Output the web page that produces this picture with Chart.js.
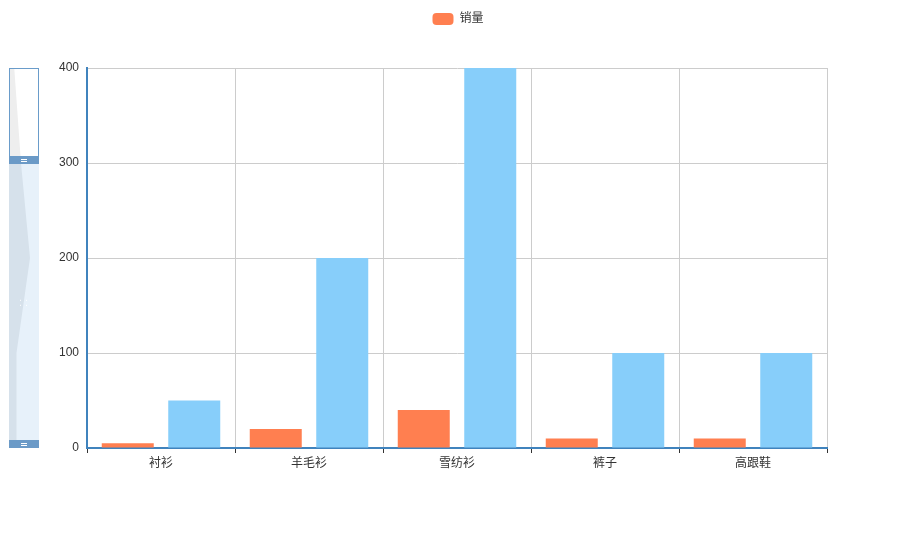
<!DOCTYPE html>
<html>
<head>
<meta charset="utf-8">
<script src="https://cdn.jsdelivr.net/npm/chart.js@4/dist/chart.umd.min.js"></script>
<style>
html,body{margin:0;padding:0;background:#fff;}
#wrap{width:906px;height:542px;position:relative;}
</style>
</head>
<body>
<div id="wrap"><canvas id="c" width="906" height="542"></canvas></div>
<script>
const categories = ['衬衫', '羊毛衫', '雪纺衫', '裤子', '高跟鞋'];
const salesValues = [5, 20, 40, 10, 10];
const secondValues = [50, 200, 400, 100, 100];
const yTicks = [0, 100, 200, 300, 400];
const legendLabel = '销量';

const FONT = "'Liberation Sans', 'Noto Sans CJK SC', sans-serif";
const AXIS_BLUE = '#4083bd';

const legendHeightPlugin = {
  id: 'legendHeight',
  afterInit(chart) {
    const lg = chart.legend;
    if (!lg) return;
    const orig = lg.fit;
    lg.fit = function () {
      orig.call(this);
      this.height = 68;
    };
  },
  afterLayout(chart) {
    const lg = chart.legend;
    if (!lg) return;
    lg.left += 5;
    lg.right += 5;
  }
};

const sliderPlugin = {
  id: 'slider',
  afterDraw(chart) {
    const ctx = chart.ctx;
    const top = chart.chartArea.top, bottom = chart.chartArea.bottom;
    const x0 = 9, w = 30;
    const h = bottom - top;
    const hTop = top + h * 0.2316;
    const hs = 8;
    ctx.save();
    ctx.fillStyle = '#e7f1fa';
    ctx.fillRect(x0, hTop + hs, w, bottom - hs - (hTop + hs));
    const vals = chart.data.datasets[1].data;
    const maxV = Math.max(...vals);
    ctx.beginPath();
    ctx.moveTo(x0, top);
    vals.forEach((v, i) => {
      const y = top + (i / (vals.length - 1)) * h;
      const x = x0 + 3 + (v / maxV) * 18;
      ctx.lineTo(x, y);
    });
    ctx.lineTo(x0, bottom);
    ctx.closePath();
    ctx.save();
    ctx.clip();
    ctx.fillStyle = '#eeeeee';
    ctx.fillRect(x0, top, w, hTop - top);
    ctx.fillStyle = '#d6e1eb';
    ctx.fillRect(x0, hTop, w, bottom - hTop);
    ctx.restore();
    ctx.strokeStyle = '#6a9cca';
    ctx.lineWidth = 1;
    ctx.strokeRect(x0 + 0.5, top + 0.5, w - 1, hTop - top);
    ctx.fillStyle = '#6b9ac7';
    ctx.fillRect(x0, hTop, w, hs);
    ctx.fillRect(x0, bottom - hs, w, hs);
    ctx.fillStyle = '#ffffff';
    [hTop, bottom - hs].forEach(y => {
      ctx.fillRect(x0 + 12, y + 3, 6, 1);
      ctx.fillRect(x0 + 12, y + 5, 6, 1);
    });
    const gy = top + h * 0.61;
    [[20, 0], [26, 0], [20, 5], [26, 5]].forEach(([dx, dy]) => {
      ctx.fillRect(dx, gy + dy, 1, 1);
    });
    ctx.restore();
  }
};

new Chart(document.getElementById('c'), {
  type: 'bar',
  data: {
    labels: categories,
    datasets: [
      { label: legendLabel, data: salesValues, backgroundColor: '#ff7f50', categoryPercentage: 0.8986, barPercentage: 0.782 },
      { label: '', data: secondValues, backgroundColor: '#87cefa', categoryPercentage: 0.8986, barPercentage: 0.782 }
    ]
  },
  plugins: [legendHeightPlugin, sliderPlugin],
  options: {
    responsive: false,
    animation: false,
    layout: { padding: { top: 0, left: 0, right: 0, bottom: 0 } },
    plugins: {
      tooltip: { enabled: false },
      legend: {
        position: 'top',
        labels: {
          filter: (item) => item.text !== '',
          boxWidth: 21,
          boxHeight: 12,
          useBorderRadius: true,
          borderRadius: 4,
          padding: 13,
          color: '#333',
          font: { family: FONT, size: 12 }
        }
      }
    },
    scales: {
      x: {
        grid: { color: '#cccccc', tickColor: '#333333', tickLength: 5, offset: true },
        border: { color: AXIS_BLUE, width: 2 },
        ticks: { color: '#333', font: { family: FONT, size: 12 }, padding: 3 },
        afterFit: (s) => { s.height = 94; }
      },
      y: {
        min: 0,
        max: 400,
        afterBuildTicks: (s) => { s.ticks = yTicks.map(v => ({ value: v })); },
        grid: { color: '#cccccc', drawTicks: false },
        border: { color: AXIS_BLUE, width: 2 },
        ticks: { color: '#333', font: { family: FONT, size: 12 }, padding: 8 },
        afterFit: (s) => { s.width = 87; }
      },
      yR: {
        position: 'right',
        display: true,
        grid: { display: false, drawTicks: false },
        border: { display: false },
        ticks: { display: false },
        afterFit: (s) => { s.width = 79; }
      }
    }
  }
});
</script>
</body>
</html>
